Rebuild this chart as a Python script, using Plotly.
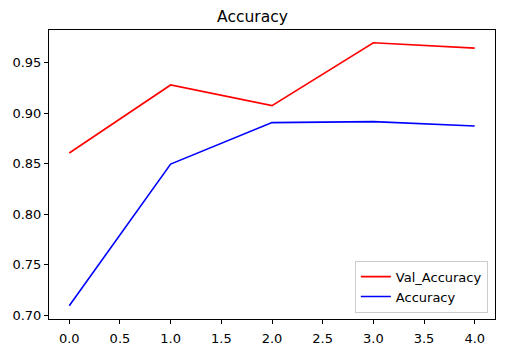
import plotly.graph_objects as go

epochs = [0, 1, 2, 3, 4]
val_accuracy = [0.8605, 0.9277, 0.9073, 0.9694, 0.9641]
accuracy = [0.7095, 0.8495, 0.8905, 0.8915, 0.8872]
x_ticks = [0.0, 0.5, 1.0, 1.5, 2.0, 2.5, 3.0, 3.5, 4.0]
y_ticks = [0.70, 0.75, 0.80, 0.85, 0.90, 0.95]

fig = go.Figure()
fig.add_trace(go.Scatter(x=epochs, y=val_accuracy, mode="lines", name="Val_Accuracy",
                         line=dict(color="red", width=1.6)))
fig.add_trace(go.Scatter(x=epochs, y=accuracy, mode="lines", name="Accuracy",
                         line=dict(color="blue", width=1.6)))

axis_common = dict(showgrid=False, zeroline=False, showline=True, linecolor="black",
                   linewidth=1, mirror=True, ticks="outside", ticklen=4, tickwidth=1,
                   tickcolor="black", automargin=False,
                   tickfont=dict(family="DejaVu Sans", size=13, color="black"))
fig.update_xaxes(range=[-0.2, 4.2], tickvals=x_ticks, ticklabelstandoff=3,
                 ticktext=[f"{v:.1f}" for v in x_ticks], **axis_common)
fig.update_yaxes(range=[0.6965, 0.982], tickvals=y_ticks,
                 ticktext=[f"{v:.2f}" for v in y_ticks], **axis_common)

fig.update_layout(
    width=505, height=352,
    margin=dict(l=49, r=10, t=30, b=33),
    paper_bgcolor="white", plot_bgcolor="white",
    title=dict(text="Accuracy", x=0.5, xanchor="center", y=0.953, yanchor="middle",
               font=dict(family="DejaVu Sans", size=15.5, color="black")),
    legend=dict(x=0.984, y=0.022, xanchor="right", yanchor="bottom",
                bgcolor="white", bordercolor="#cccccc", borderwidth=1,
                font=dict(family="DejaVu Sans", size=13, color="black"),
                tracegroupgap=0, itemwidth=30),
    showlegend=True,
)

fig.write_html("out.html")
